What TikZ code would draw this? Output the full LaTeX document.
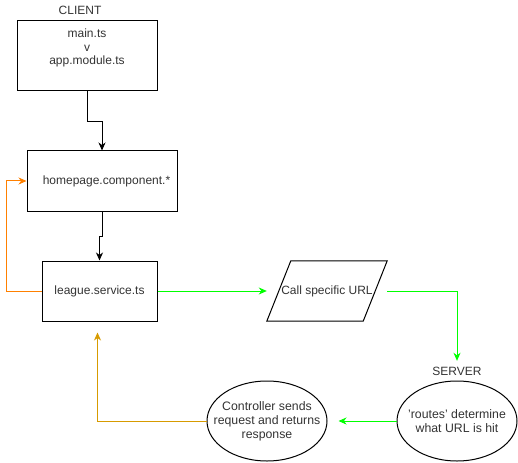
\documentclass[tikz,border=0pt]{standalone}
\usepackage{fontspec}
\setmainfont{Liberation Sans}
\usetikzlibrary{arrows.meta,shapes.geometric,calc}
\definecolor{txt}{HTML}{333333}
\definecolor{grn}{HTML}{00FF00}
\definecolor{org}{HTML}{FF8000}
\definecolor{dorg}{HTML}{D79B00}
\tikzset{
  box/.style={draw=black, line width=1pt, rectangle, inner sep=0pt, text=txt, align=center, font=\fontsize{12}{13.5}\selectfont},
  ell/.style={draw=black, line width=1pt, ellipse, inner sep=0pt, minimum width=120pt, minimum height=80pt},
  elltext/.style={inner sep=0pt, text=txt, align=center, font=\fontsize{12.3}{14}\selectfont},
  lbl/.style={inner sep=0pt, minimum height=20pt, text=txt, font=\fontsize{12}{14}\selectfont},
  conn/.style={line width=1pt, -{Stealth[length=8pt,width=7pt,inset=2.5pt]}},
}
\begin{document}
\begin{tikzpicture}[x=1pt,y=-1pt]
\useasboundingbox (0,0) rectangle (518,462);
\node[lbl] (client) at (80,10) {CLIENT};
\node[box, minimum width=140pt, minimum height=70pt] (m) at (87,56) {};
\node[text=txt, align=center, font=\fontsize{12}{13.5}\selectfont, inner sep=0pt, anchor=north] (mt) at (87,29) {main.ts\\v\\app.module.ts};
\node[box, minimum width=150pt, minimum height=60pt] (h) at (102,181) {\hspace*{9pt}homepage.component.*};
\node[box, minimum width=115pt, minimum height=60pt] (l) at (99.5,291) {league.service.ts};
\node[inner sep=0pt, minimum width=120pt, minimum height=60pt, text=txt, font=\fontsize{12}{14}\selectfont] (c) at (327,291) {Call specific URL};
\draw[line width=1pt] (c.south west) -- ($(c.north west)+(24,0)$) -- (c.north east) -- ($(c.south east)-(24,0)$) -- cycle;
\node[lbl] (srv) at (457,371) {SERVER};
\node[ell, label={[elltext]center:{'routes' determine\\what URL is hit}}] (r) at (457,421) {};
\node[ell, label={[elltext]center:{Controller sends\\request and returns\\response}}] (ctrl) at (267,421) {};
% connectors
\draw[conn, black] (m.south) -- ++(0,30) -| (h.north);
\draw[conn, black] (h.south) -- ++(0,25) -| (l.north);
\draw[conn, org] (l.west) -- ++(-35,0) |- (h.west);
\draw[conn, grn] (l.east) -- (c.west);
\draw[conn, grn] (c.east) -| (srv.north);
\draw[conn, grn, shorten >=11pt] (r.west) -- (ctrl.east);
\draw[conn, dorg, shorten >=11pt] (ctrl.west) -| ($(l.south)+(-2,0)$);
\end{tikzpicture}
\end{document}
